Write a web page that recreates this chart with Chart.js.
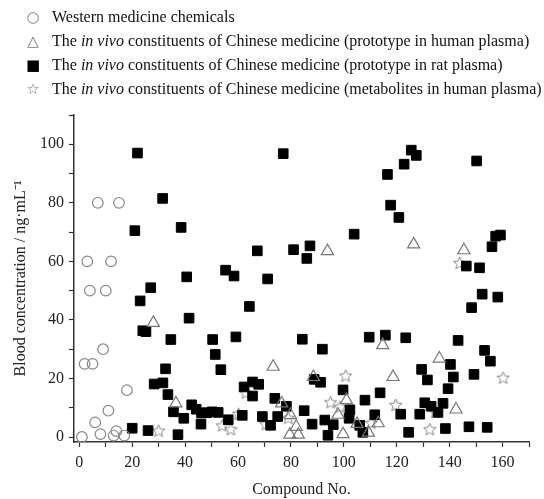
<!DOCTYPE html>
<html>
<head>
<meta charset="utf-8">
<script src="https://cdn.jsdelivr.net/npm/chart.js@4.4.0/dist/chart.umd.min.js"></script>
<style>
body { margin: 0; background: #fff; }
.wrap { position: relative; width: 544px; height: 499px; }
.legend { position: absolute; left: 0; top: 0; width: 544px; font-family: "Liberation Serif", serif; font-size: 16px; color: #111; }
.legend .row { position: absolute; left: 0; height: 18px; line-height: 18px; white-space: nowrap; }
.legend .sym { position: absolute; left: 25px; width: 16px; text-align: center; font-family: "DejaVu Sans", sans-serif; color: #777; font-size: 15px; }
.legend .sym.fill { color: #000; }
.legend .txt { position: absolute; left: 52px; }
</style>
</head>
<body>
<div class="wrap">
  <canvas id="chart" width="544" height="499"></canvas>
  <div class="legend">
    <div class="row" style="top:8px"><span class="sym">○</span><span class="txt">Western medicine chemicals</span></div>
    <div class="row" style="top:32px"><span class="sym">△</span><span class="txt">The <i>in vivo</i> constituents of Chinese medicine (prototype in human plasma)</span></div>
    <div class="row" style="top:56px"><span class="sym fill">■</span><span class="txt">The <i>in vivo</i> constituents of Chinese medicine (prototype in rat plasma)</span></div>
    <div class="row" style="top:80px"><span class="sym">☆</span><span class="txt">The <i>in vivo</i> constituents of Chinese medicine (metabolites in human plasma)</span></div>
  </div>
</div>
<script>
// values: [compound no., concentration]
const western = [[1,0],[2,25],[3,60],[4,50],[5,25],[6,5],[7,80],[8,1],[9,30],[10,50],[11,9],[12,60],[13,0.5],[14,2],[15,80],[17,0.5],[18,16]];

const humanProto = [[28,39],[36.5,11.5],[73.3,24],[76.5,11.5],[79.8,7.5],[79.6,0.8],[82,3.5],[82.8,0.8],[88.5,20.5],[93.8,63.5],[97.8,7.6],[99.7,1],[101,12.6],[105,4.5],[109.3,1.5],[113,4.7],[114.7,31.4],[118.6,20.5],[126.4,65.8],[136.1,26.8],[142.4,9.4],[145.4,63.8]];

const ratProto = [[20,3],[21,70.5],[22,97],[23,46.5],[24,36.3],[25.2,36],[26,2.2],[27,51],[28.3,18.1],[31.5,81.5],[31.6,18.5],[32.6,23.3],[33.5,14.5],[34.6,33.3],[35.6,8.6],[37.3,0.8],[38.5,71.6],[39.5,6.4],[40.6,54.7],[41.5,40.6],[42.5,11],[44.2,9.5],[46.2,8.2],[46,4.4],[48.2,8.3],[50.2,8.6],[50.4,33.3],[51.4,28.2],[52.5,8.4],[53.5,23],[55.3,57],[56.3,5.9],[58.5,55],[59.2,34.2],[61.6,7.4],[62.3,17.1],[64.3,44.6],[65.5,18.8],[65.5,14],[67.3,63.6],[67.8,18],[69.2,7],[71.2,54],[72.3,4],[73.9,13.2],[75,7],[77.1,96.8],[78.3,10.5],[81,64],[84.3,33.4],[85,9],[86,61],[87.2,65.3],[88,4.4],[88.8,19.7],[91.2,18.7],[91.9,30],[92.8,5.8],[94,0.6],[96,4.2],[99.7,16.1],[102.3,9.3],[102,6.4],[103.9,69.3],[106,4],[107.2,1.6],[108,12.6],[109.6,34.1],[111.7,7.6],[113.7,15.1],[115.7,34.8],[116.5,89.7],[117.7,79.2],[120.8,75],[121.5,7.8],[122.8,93.2],[123.4,33.9],[124.5,1.6],[125.5,98],[127.4,96.2],[128.7,7.8],[129.4,23.1],[130.6,11.7],[131.6,19.5],[133,10.5],[135.6,8.4],[137.5,11.5],[138.4,2.9],[139.4,16.5],[140.3,24.8],[141.4,20.5],[143.2,33],[146.3,58.4],[147.3,3.5],[148.3,44.2],[149.2,21.4],[150.2,94.3],[151.3,57.8],[152.3,48.8],[153.2,29.6],[154.2,3.3],[155.4,25.9],[156,65],[157.4,68.6],[158.2,47.8],[159.2,69]];

const humanMetab = [[30,2],[54,3.8],[57.3,2.5],[60.2,7.8],[63,15],[70.5,4.2],[79,6.4],[95,11.7],[98.6,10.2],[100.7,20.8],[110.4,4.7],[119.6,10.8],[132.5,2.5],[134.5,8.4],[143.8,59.3],[160.2,20.1]];

const xTicks = [0,10,20,30,40,50,60,70,80,90,100,110,120,130,140,150,160,170];
const xLabels = [0,20,40,60,80,100,120,140,160];
const yTicks = [0,10,20,30,40,50,60,70,80,90,100,110];
const yLabels = [0,20,40,60,80,100];

Chart.defaults.font.family = '"Liberation Serif", serif';
Chart.defaults.color = '#222';

function starImage(size, color) {
    const c = document.createElement('canvas');
    c.width = size;
    c.height = size;
    const g = c.getContext('2d');
    const R = size / 2 - 1, r = R * 0.45;
    g.beginPath();
    for (let i = 0; i < 10; i++) {
        const a = -Math.PI / 2 + i * Math.PI / 5;
        const rr = i % 2 ? r : R;
        g.lineTo(size / 2 + rr * Math.cos(a), size / 2 + rr * Math.sin(a));
    }
    g.closePath();
    g.strokeStyle = color;
    g.lineWidth = 1;
    g.stroke();
    return c;
}

const toPts = arr => arr.map(p => ({ x: p[0], y: p[1] }));

new Chart(document.getElementById('chart'), {
    type: 'scatter',
    data: {
        datasets: [
            { label: 'Western medicine chemicals', data: toPts(western), pointStyle: 'circle', pointRadius: 5.3, borderColor: '#888', borderWidth: 1.2, backgroundColor: 'rgba(255,255,255,0)' },
            { label: 'prototype in human plasma', data: toPts(humanProto), pointStyle: 'triangle', pointRadius: 7, borderColor: '#777', borderWidth: 1.2, backgroundColor: 'rgba(255,255,255,0)' },
            { label: 'prototype in rat plasma', data: toPts(ratProto), pointStyle: 'rect', pointRadius: 6.8, borderColor: '#000', borderWidth: 1, backgroundColor: '#000' },
            { label: 'metabolites in human plasma', data: toPts(humanMetab), pointStyle: starImage(15, '#888'), pointRadius: 6 }
        ]
    },
    options: {
        responsive: false,
        animation: false,
        layout: { padding: { left: 0, top: 115, right: 15, bottom: 0 } },
        plugins: { legend: { display: false }, tooltip: { enabled: false } },
        scales: {
            x: {
                type: 'linear',
                min: -2,
                max: 170,
                afterBuildTicks: axis => { axis.ticks = xTicks.map(v => ({ value: v })); },
                afterFit: scale => { scale.height = 57; },
                grid: { drawOnChartArea: false, drawTicks: true, tickLength: 5, tickColor: '#333', tickWidth: 1.2 },
                border: { display: true, color: '#333', width: 1.5 },
                ticks: {
                    autoSkip: false, maxRotation: 0, padding: 6,
                    font: { size: 16 },
                    callback: v => xLabels.includes(v) ? v : ''
                },
                title: { display: true, text: 'Compound No.', font: { size: 16 }, padding: { top: 2, bottom: 0 } }
            },
            y: {
                type: 'linear',
                min: -1.7,
                max: 110,
                afterBuildTicks: axis => { axis.ticks = yTicks.map(v => ({ value: v })); },
                afterFit: scale => { scale.width = 74; },
                grid: { drawOnChartArea: false, drawTicks: true, tickLength: 5, tickColor: '#333', tickWidth: 1.2 },
                border: { display: true, color: '#333', width: 1.5 },
                ticks: {
                    autoSkip: false, padding: 5,
                    font: { size: 16 },
                    callback: v => yLabels.includes(v) ? v : ''
                },
                title: { display: true, text: 'Blood concentration / ng·mL⁻¹', font: { size: 16 }, padding: { top: 11, bottom: 4 } }
            }
        }
    }
});
</script>
</body>
</html>
